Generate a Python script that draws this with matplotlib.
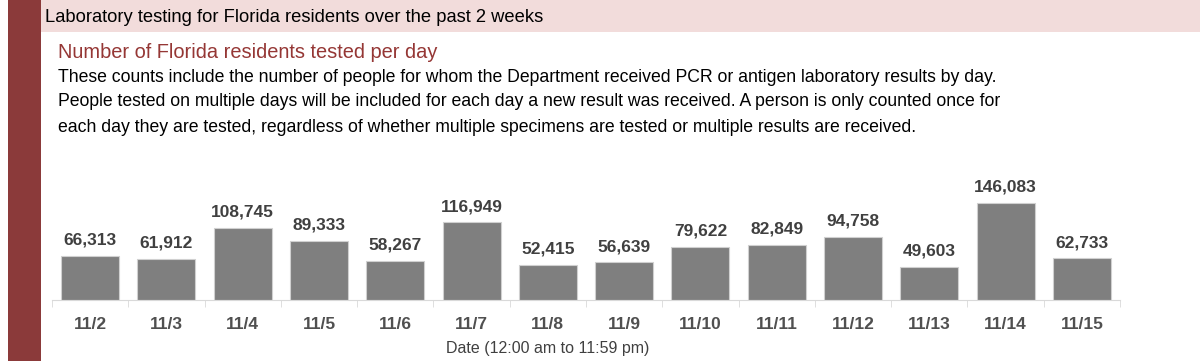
import numpy as np
import matplotlib.pyplot as plt
from matplotlib.patches import Rectangle

plt.rcParams['font.family'] = ['Liberation Sans', 'DejaVu Sans']

dates = ["11/2", "11/3", "11/4", "11/5", "11/6", "11/7", "11/8",
         "11/9", "11/10", "11/11", "11/12", "11/13", "11/14", "11/15"]
tested = [66313, 61912, 108745, 89333, 58267, 116949, 52415,
          56639, 79622, 82849, 94758, 49603, 146083, 62733]

W, H = 1200, 361
fig = plt.figure(figsize=(12, 3.61), dpi=100)

# side band and header band
fig.patches.append(Rectangle((8 / W, 0), 33 / W, 1, transform=fig.transFigure,
                             facecolor="#8b3a3a", edgecolor="none", zorder=0))
fig.patches.append(Rectangle((41 / W, 1 - 32 / H), 1, 32 / H, transform=fig.transFigure,
                             facecolor="#f2dcdb", edgecolor="none", zorder=0))

fig.text(45 / W, 1 - 17 / H, "Laboratory testing for Florida residents over the past 2 weeks",
         fontsize=13.2, color="black", va="center")
fig.text(58 / W, 1 - 52 / H, "Number of Florida residents tested per day",
         fontsize=14.4, color="#953735", va="center")
body = ["These counts include the number of people for whom the Department received PCR or antigen laboratory results by day.",
        "People tested on multiple days will be included for each day a new result was received. A person is only counted once for",
        "each day they are tested, regardless of whether multiple specimens are tested or multiple results are received."]
for i, line in enumerate(body):
    fig.text(58 / W, 1 - (77 + 25 * i) / H, line, fontsize=12.7, color="black", va="center")

# chart area
ax = fig.add_axes([52 / W, 1 - 300 / H, 1068 / W, 130 / H])
x = np.arange(len(dates))
bars = ax.bar(x, tested, width=0.76, color="#7f7f7f", edgecolor="#d0d0d0", linewidth=0.8)
ax.set_xlim(-0.5, len(dates) - 0.5)
ax.set_ylim(0, 195800)
for xi, v in zip(x, tested):
    ax.annotate(f"{v:,}", (xi, v), xytext=(0, 6), textcoords="offset points",
                ha="center", va="bottom", fontsize=12.5, color="#404040", fontweight="bold")

ax.set_xticks(x)
ax.set_xticklabels(dates, fontsize=12.5, color="#505050", fontweight="bold")
ax.set_xticks(np.arange(-0.5, len(dates)), minor=True)
ax.tick_params(axis="x", which="major", length=0, pad=12)
ax.tick_params(axis="x", which="minor", length=5, color="#d9d9d9")
ax.set_yticks([])
for s in ["top", "right", "left"]:
    ax.spines[s].set_visible(False)
ax.spines["bottom"].set_color("#d9d9d9")
ax.set_xlabel("Date (12:00 am to 11:59 pm)", fontsize=11.5, color="#404040")
ax.xaxis.set_label_coords(0.464, -0.37)
ax.xaxis.label.set_va("center")

fig.savefig("out.png", dpi=100)
